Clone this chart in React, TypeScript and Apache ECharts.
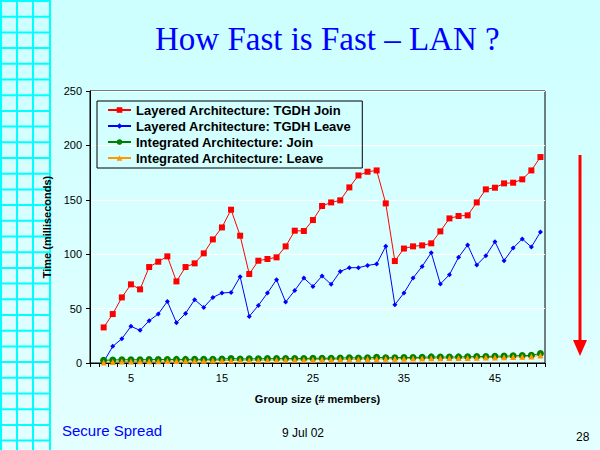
import React, { useEffect, useRef } from 'react';
import * as echarts from 'echarts';

// group sizes on the x axis (1..50, data starts at 2)
const groupSizes = [
  '1', '2', '3', '4', '5', '6', '7', '8', '9', '10',
  '11', '12', '13', '14', '15', '16', '17', '18', '19', '20',
  '21', '22', '23', '24', '25', '26', '27', '28', '29', '30',
  '31', '32', '33', '34', '35', '36', '37', '38', '39', '40',
  '41', '42', '43', '44', '45', '46', '47', '48', '49', '50'
];
const labelledSizes = ['5', '15', '25', '35', '45'];

// values for group sizes 2..50 (ms)
const layeredJoin = [
  32.7, 45, 60.3, 72.3, 67.7, 88.2, 93.1, 98, 75,
  88.2, 91.6, 100.8, 113.6, 124.6, 140.9, 117, 81.8, 94, 95.6,
  97.1, 107.2, 121.6, 121.3, 131.4, 144.3, 147.6, 149.5, 161.4, 172.4,
  175.8, 177, 146.7, 93.7, 105.2, 107.2, 108.1, 110, 121, 132.9,
  135.1, 135.7, 147.6, 159.6, 161.1, 165.1, 165.7, 168.8, 177, 189.3
];
const layeredLeave = [
  1, 15.3, 22.3, 33.7, 30, 38.9, 45, 56.6, 37,
  45.6, 58.2, 51.1, 60.3, 64.3, 64.9, 79.3, 42.8, 52.9, 64.3,
  76.6, 56, 66.7, 78.1, 70.4, 80, 72.3, 84.2, 87.6, 87.6,
  89.7, 91, 107.2, 53.6, 64.3, 78.1, 88.8, 101.4, 72.6, 81.2,
  97.1, 108.5, 90.1, 98.6, 111.5, 94, 105.7, 114, 106.6, 120.4
];
const integratedJoin = [
  2.5, 2.8, 3.0, 3.0, 3.0, 3.1, 3.2, 3.2, 3.3,
  3.3, 3.4, 3.4, 3.5, 3.6, 4.2, 3.7, 3.8, 3.9, 4.0,
  4.0, 4.1, 4.2, 4.2, 4.3, 4.4, 4.4, 4.5, 4.9, 4.6,
  4.7, 5.2, 4.8, 4.9, 5.0, 5.1, 5.2, 5.6, 5.4, 5.5,
  5.6, 5.7, 6.0, 6.0, 6.2, 6.3, 6.6, 6.8, 7.0, 8.8
];
const integratedLeave = [
  0.5, 1.0, 1.3, 1.4, 1.5, 1.6, 1.7, 1.8, 1.9,
  2.0, 2.0, 2.1, 2.2, 2.3, 2.4, 2.5, 2.6, 2.6, 2.7,
  2.8, 2.9, 3.0, 3.0, 3.1, 3.2, 3.3, 3.4, 3.5, 3.5,
  3.6, 3.7, 3.8, 3.9, 4.0, 4.1, 4.2, 4.3, 4.4, 4.5,
  4.6, 4.7, 4.8, 5.0, 5.1, 5.3, 5.5, 5.8, 6.0, 7.0
];

const seriesNames = [
  'Layered Architecture: TGDH Join',
  'Layered Architecture: TGDH Leave',
  'Integrated Architecture: Join',
  'Integrated Architecture: Leave'
];

const SANS = 'Liberation Sans, Arial, sans-serif';

// decorative grid down the left edge of the slide
const slideGrid = () => {
  const items: any[] = [];
  [1, 17, 33, 50].forEach((x) => {
    items.push({ type: 'line', shape: { x1: x, y1: 0, x2: x, y2: 450 }, style: { stroke: '#00FFFF', lineWidth: 2 } });
  });
  for (let y = 1; y < 450; y += 15.7) {
    items.push({ type: 'line', shape: { x1: 0, y1: y, x2: 50, y2: y }, style: { stroke: '#00FFFF', lineWidth: 2 } });
  }
  return items;
};

const App: React.FC = () => {
  const chartRef = useRef<HTMLDivElement>(null);

  useEffect(() => {
    if (!chartRef.current) return;
    const chart = echarts.init(chartRef.current, null, { renderer: 'svg' });

    const withGap = (arr: number[]) => [null, ...arr];

    const lineSeries = (i: number, data: number[], symbol: string, size: number, color: string) => ({
      name: seriesNames[i],
      type: 'line',
      data: withGap(data),
      symbol,
      symbolSize: size,
      showAllSymbol: true,
      lineStyle: { color, width: 1 },
      itemStyle: { color }
    });

    const option: any = {
      animation: false,
      backgroundColor: new echarts.graphic.LinearGradient(0, 0, 0, 1, [
        { offset: 0, color: '#CCFFFF' },
        { offset: 1, color: '#E4FFFF' }
      ]),
      title: {
        text: 'How Fast is Fast \u2013 LAN ?',
        left: 150,
        top: 17,
        textStyle: {
          fontFamily: 'Liberation Serif, Times New Roman, serif',
          fontSize: 33,
          fontWeight: 'normal',
          color: '#0000FF'
        }
      },
      legend: {
        data: seriesNames,
        orient: 'vertical',
        left: 97,
        top: 101,
        padding: [2, 11, 3, 10],
        itemGap: 2,
        itemWidth: 23,
        itemHeight: 7,
        borderColor: '#000',
        borderWidth: 1,
        textStyle: { fontFamily: SANS, fontSize: 13, fontWeight: 'bold', color: '#000', lineHeight: 14 }
      },
      grid: {
        left: 90,
        top: 91,
        width: 455,
        height: 272,
        show: true,
        borderColor: '#000',
        borderWidth: 1,
        backgroundColor: 'transparent'
      },
      xAxis: {
        type: 'category',
        data: groupSizes,
        boundaryGap: true,
        name: 'Group size (# members)',
        nameLocation: 'middle',
        nameGap: 30,
        nameTextStyle: { fontFamily: SANS, fontSize: 11, fontWeight: 'bold', color: '#000' },
        axisLine: { lineStyle: { color: '#000', width: 1 } },
        axisTick: { show: true, interval: 0, length: 4, lineStyle: { color: '#000' } },
        axisLabel: {
          interval: (_i: number, v: string) => labelledSizes.includes(v),
          fontFamily: SANS,
          fontSize: 11,
          color: '#000',
          margin: 9
        },
        splitLine: { show: false }
      },
      yAxis: {
        type: 'value',
        min: 0,
        max: 250,
        interval: 50,
        name: 'Time (milliseconds)',
        nameLocation: 'middle',
        nameGap: 26,
        nameTextStyle: { fontFamily: SANS, fontSize: 11, fontWeight: 'bold', color: '#000' },
        axisLine: { show: true, lineStyle: { color: '#000', width: 1 } },
        axisTick: { show: true, length: 4, lineStyle: { color: '#000' } },
        axisLabel: { fontFamily: SANS, fontSize: 11, color: '#000', margin: 8 },
        splitLine: { show: true, lineStyle: { color: '#FFFFFF', width: 1 } }
      },
      series: [
        lineSeries(0, layeredJoin, 'rect', 6, '#FF0000'),
        lineSeries(1, layeredLeave, 'diamond', 5, '#0000FF'),
        lineSeries(2, integratedJoin, 'circle', 7, '#008000'),
        lineSeries(3, integratedLeave, 'triangle', 6, '#FF9900')
      ],
      graphic: [
        ...slideGrid(),
        // red arrow on the right
        { type: 'line', shape: { x1: 580, y1: 155, x2: 580, y2: 342 }, style: { stroke: '#FF0000', lineWidth: 3 } },
        { type: 'polygon', shape: { points: [[573, 340], [587, 340], [580, 356]] }, style: { fill: '#FF0000' } },
        // footer
        { type: 'text', left: 62, top: 423, style: { text: 'Secure Spread', fill: '#0000FF', font: '15px ' + SANS } },
        { type: 'text', left: 282, top: 427, style: { text: '9 Jul 02', fill: '#000', font: '12px ' + SANS } },
        { type: 'text', left: 576, top: 431, style: { text: '28', fill: '#000', font: '12px ' + SANS } }
      ]
    };

    chart.setOption(option);
    return () => chart.dispose();
  }, []);

  return (
    <div
      ref={chartRef}
      style={{ position: 'fixed', left: 0, top: 0, width: '600px', height: '450px' }}
    />
  );
};

export default App;
